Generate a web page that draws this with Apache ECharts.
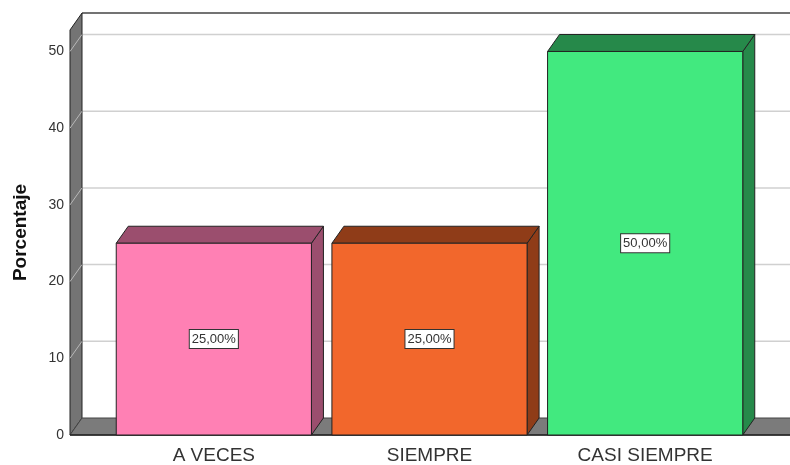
<!DOCTYPE html>
<html>
<head>
<meta charset="utf-8">
<script src="https://cdn.jsdelivr.net/npm/echarts@6/dist/echarts.min.js"></script>
<style>
  html, body { margin: 0; padding: 0; background: #fff; }
  #chart { width: 790px; height: 465px; }
</style>
</head>
<body>
<div id="chart"></div>
<script>
const categories = ['A VECES', 'SIEMPRE', 'CASI SIEMPRE']
const percentages = [25, 25, 50]
const barLabels = ['25,00%', '25,00%', '50,00%']
const yTicks = [0, 10, 20, 30, 40, 50]

const frontColors = ['#ff80b4', '#f2672c', '#42e97f']
const sideColors = ['#9b4e6e', '#8f3c18', '#26894a']
const DX = 12
const DY = 17

function renderFrame (params, api) {
  const cs = params.coordSys
  const fx = cs.x - 36
  const bx = fx + DX
  const right = cs.x + cs.width + 80
  const y0 = api.coord([0, 0])[1]
  const yTop = cs.y
  const children = []
  // back wall grid lines
  yTicks.slice(1).forEach(function (v) {
    const y = api.coord([0, v])[1]
    children.push({ type: 'line', shape: { x1: bx, y1: y - DY, x2: right, y2: y - DY }, style: { stroke: '#d0d0d0', lineWidth: 1.5 } })
  })
  // back wall top edge
  children.push({ type: 'line', shape: { x1: bx, y1: yTop - DY, x2: right, y2: yTop - DY }, style: { stroke: '#444', lineWidth: 1.5 } })
  // left wall
  children.push({ type: 'polygon', shape: { points: [[fx, yTop], [bx, yTop - DY], [bx, y0 - DY], [fx, y0]] }, style: { fill: '#747474', stroke: '#222', lineWidth: 1 } })
  yTicks.slice(1).forEach(function (v) {
    const y = api.coord([0, v])[1]
    children.push({ type: 'line', shape: { x1: fx, y1: y, x2: bx, y2: y - DY }, style: { stroke: '#b8b8b8', lineWidth: 1 } })
  })
  // floor
  children.push({ type: 'polygon', shape: { points: [[fx, y0], [bx, y0 - DY], [right, y0 - DY], [right, y0]] }, style: { fill: '#7b7b7b', stroke: '#444', lineWidth: 1 } })
  children.push({ type: 'line', shape: { x1: fx, y1: y0, x2: right, y2: y0 }, style: { stroke: '#222', lineWidth: 1.5 } })
  return { type: 'group', children: children }
}

function renderBar (params, api) {
  const idx = api.value(0)
  const val = api.value(1)
  const top = api.coord([idx, val])
  const base = api.coord([idx, 0])
  const w = api.size([1, 0])[0] * 0.905
  const x0 = top[0] - w / 2
  const x1 = top[0] + w / 2
  const yt = top[1]
  const yb = base[1]
  const i = params.dataIndex
  const edge = { stroke: '#222', lineWidth: 1 }
  return {
    type: 'group',
    children: [
      { type: 'polygon', shape: { points: [[x1, yt], [x1 + DX, yt - DY], [x1 + DX, yb - DY], [x1, yb]] }, style: Object.assign({ fill: sideColors[i] }, edge) },
      { type: 'polygon', shape: { points: [[x0, yt], [x0 + DX, yt - DY], [x1 + DX, yt - DY], [x1, yt]] }, style: Object.assign({ fill: sideColors[i] }, edge) },
      { type: 'rect', shape: { x: x0, y: yt, width: w, height: yb - yt }, style: Object.assign({ fill: frontColors[i] }, edge) },
      {
        type: 'text',
        x: top[0],
        y: (yt + yb) / 2,
        style: {
          text: barLabels[i],
          align: 'center',
          verticalAlign: 'middle',
          fontFamily: 'Liberation Sans',
          fontSize: 13,
          fill: '#333',
          backgroundColor: '#fff',
          borderColor: '#333',
          borderWidth: 1,
          padding: [3, 2, 2, 2]
        }
      }
    ]
  }
}

const chart = echarts.init(document.getElementById('chart'))
chart.setOption({
  animation: false,
  grid: { left: 106, right: 37, top: 30, bottom: 29 },
  xAxis: {
    type: 'category',
    data: categories,
    axisLine: { show: false },
    axisTick: { show: false },
    axisLabel: { fontFamily: 'Liberation Sans', fontSize: 19, color: '#333', margin: 11 }
  },
  yAxis: {
    type: 'value',
    min: 0,
    max: 52.8,
    interval: 10,
    name: 'Porcentaje',
    nameLocation: 'middle',
    nameRotate: 90,
    nameGap: 76,
    nameTextStyle: { fontFamily: 'Liberation Sans', fontSize: 19, fontWeight: 'bold', color: '#111' },
    axisLine: { show: false },
    axisTick: { show: false },
    splitLine: { show: false },
    axisLabel: { fontFamily: 'Liberation Sans', fontSize: 14, color: '#333', margin: 42, showMaxLabel: false }
  },
  series: [
    {
      type: 'custom',
      z: 1,
      silent: true,
      renderItem: renderFrame,
      data: [[0, 0]]
    },
    {
      type: 'custom',
      z: 2,
      renderItem: renderBar,
      encode: { x: 0, y: 1 },
      data: percentages.map(function (v, i) { return [i, v] })
    }
  ]
})
</script>
</body>
</html>
